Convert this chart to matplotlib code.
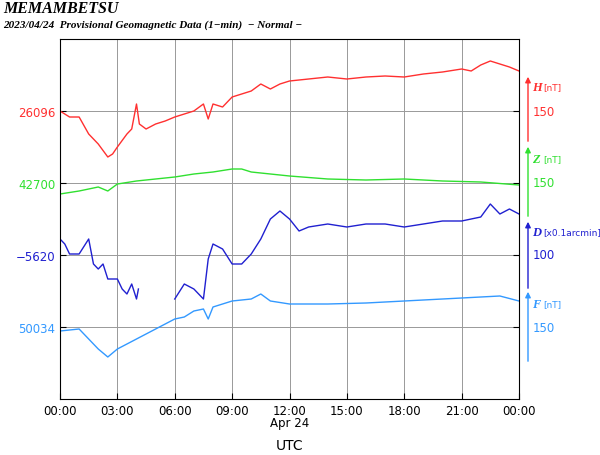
import matplotlib
matplotlib.use("Agg")
import matplotlib.pyplot as plt
import numpy as np

# pixel-space traces (y measured downward from image top)
h_t = [0,0.5,1,1.5,2,2.5,2.75,3,3.5,3.75,4,4.15,4.5,5,5.5,6,6.5,7,7.5,7.75,8,8.5,9,9.5,10,10.5,11,11.5,12,13,14,15,16,17,18,19,20,21,21.5,22,22.5,23,23.5,24]
h_v = [112,118,118,135,145,158,155,148,135,130,105,125,130,125,122,118,115,112,105,120,105,108,98,95,92,85,90,85,82,80,78,80,78,77,78,75,73,70,72,66,62,65,68,72]
z_t = [0,1,2,2.5,3,4,5,6,7,8,9,9.5,10,11,12,14,16,18,20,22,24]
z_v = [195,192,188,192,185,182,180,178,175,173,170,170,173,175,177,180,181,180,182,183,186]
d_t = [0,0.25,0.5,1,1.5,1.75,2,2.25,2.5,3,3.25,3.5,3.75,4,4.1,4.11,5.9,6,6.5,7,7.5,7.75,8,8.5,9,9.5,10,10.5,11,11.5,12,12.5,13,14,15,16,17,18,19,20,21,22,22.5,23,23.5,24]
d_v = [240,245,255,255,240,265,270,265,280,280,290,295,285,300,290,np.nan,np.nan,300,285,290,300,260,245,250,265,265,255,240,220,212,220,232,228,225,228,225,225,228,225,222,222,218,205,215,210,215]
f_t = [0,1,1.5,2,2.5,3,4,5,6,6.5,7,7.5,7.75,8,9,10,10.5,11,12,14,16,18,20,22,23,24]
f_v = [332,330,340,350,358,350,340,330,320,318,312,310,320,308,302,300,295,302,305,305,304,302,300,298,297,302]

left_labels = ["26096", "42700", "\u22125620", "50034"]
right_labels = ["150", "150", "100", "150"]
comp = ["H", "Z", "D", "F"]
units = ["[nT]", "[nT]", "[x0.1arcmin]", "[nT]"]
colors = ["#ff3030", "#30e030", "#2020d0", "#3399ff"]
grid_px = [112, 184, 256, 328]
label_px = [88, 160, 233, 305]
arrow_px = [(145, 75), (220, 145), (292, 220), (365, 290)]
xt_labels = ["00:00","03:00","06:00","09:00","12:00","15:00","18:00","21:00","00:00"]

fig = plt.figure(figsize=(6, 4.56), dpi=100)
L, R, T, B = 60, 519, 40, 400
ax = fig.add_axes([L/600, 1-B/456, (R-L)/600, (B-T)/456])
ax.set_xlim(0, 24)
ax.set_ylim(B, T)
for t, v, c in [(h_t,h_v,colors[0]),(z_t,z_v,colors[1]),(d_t,d_v,colors[2]),(f_t,f_v,colors[3])]:
    ax.plot(t, v, color=c, lw=1)
ax.set_xticks(np.arange(0, 25, 3))
ax.set_xticklabels(xt_labels, fontsize=8.5)
ax.set_yticks(grid_px)
ax.set_yticklabels(left_labels, fontsize=8.5)
for tl, c in zip(ax.get_yticklabels(), colors):
    tl.set_color(c)
ax.grid(True, color="#999999", lw=0.7)
ax.tick_params(direction="in", length=4, right=True)
ax.text(12, B+24, "Apr 24", transform=ax.transData, ha="center", va="center", fontsize=8.5, clip_on=False)
fig.text(290/600, 1-446/456, "UTC", ha="center", va="center", fontsize=10)

def fx(px): return px/600
def fy(py): return 1-py/456
for i in range(4):
    y0, y1 = arrow_px[i]
    fig.add_artist(matplotlib.patches.FancyArrowPatch((fx(528), fy(y0)), (fx(528), fy(y1)),
        transform=fig.transFigure, arrowstyle="-|>", mutation_scale=8, color=colors[i], lw=1))
    fig.text(fx(532), fy(label_px[i]), comp[i], color=colors[i], fontsize=9, family="Liberation Serif",
             style="italic", weight="bold", va="center")
    fig.text(fx(543), fy(label_px[i]), units[i], color=colors[i], fontsize=6.5, va="center")
    fig.text(fx(533), fy(grid_px[i]), right_labels[i], color=colors[i], fontsize=8.5, va="center")

fig.text(fx(3), fy(9), "MEMAMBETSU", family="Liberation Serif", style="italic", weight="bold", fontsize=11.5, va="center")
fig.text(fx(3), fy(25), "2023/04/24  Provisional Geomagnetic Data (1\u2212min)  \u2212 Normal \u2212",
         family="Liberation Serif", style="italic", weight="bold", fontsize=8, va="center")
fig.savefig("out.png", dpi=100)
